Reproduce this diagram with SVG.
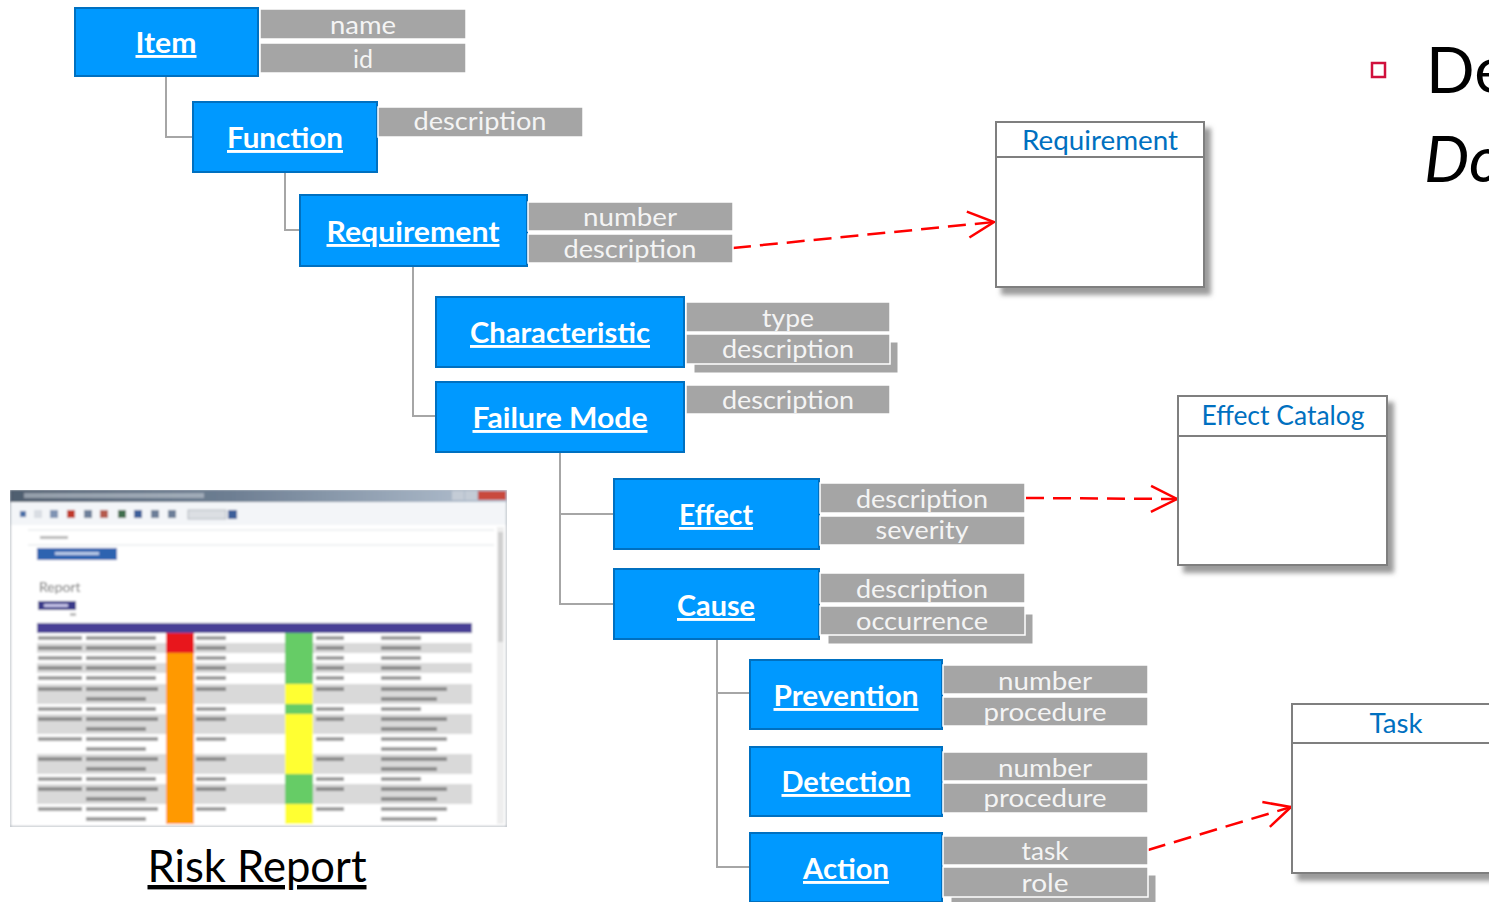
<svg xmlns="http://www.w3.org/2000/svg" xmlns:xlink="http://www.w3.org/1999/xlink" width="1489" height="902" viewBox="0 0 1489 902">
<style>
.box{fill:#0099FF;stroke:#0070C0;stroke-width:2}
.lbl{font-family:Lato,"Open Sans",sans-serif;font-weight:bold;font-size:29px;fill:#FFFFFF;text-anchor:middle;text-decoration:underline}
.attr{fill:#A5A5A5;stroke:#FFFFFF;stroke-width:1.5}
.attrsh{fill:#A5A5A5;stroke:#FFFFFF;stroke-width:1}
.at{font-family:Lato,"Open Sans",sans-serif;font-size:25px;fill:#F4F4F4;text-anchor:middle}
.umlbox{fill:#FFFFFF;stroke:#7F7F7F;stroke-width:2}
.umlline{stroke:#7F7F7F;stroke-width:2}
.umlt{font-family:Lato,"Open Sans",sans-serif;font-size:26px;fill:#0070C0;text-anchor:middle}
.tree{fill:none;stroke:#A6A6A6;stroke-width:2}
.dep{fill:none;stroke:#FF0000;stroke-width:2.5;stroke-dasharray:18 9}
.tb{fill:#5a5a5a;opacity:.6}
</style>
<defs>
<marker id="open" markerUnits="userSpaceOnUse" markerWidth="32" markerHeight="32" refX="28" refY="14" orient="auto" overflow="visible">
<path d="M2,1 L28,14 L2,27" fill="none" stroke="#FF0000" stroke-width="2.5"/>
</marker>
<filter id="shadow" x="-10%" y="-10%" width="130%" height="130%">
<feDropShadow dx="6" dy="7" stdDeviation="2.5" flood-color="#7a7a7a" flood-opacity="0.75"/>
</filter>
<filter id="blur" x="0" y="0" width="100%" height="100%">
<feGaussianBlur stdDeviation="0.9"/>
</filter>
<linearGradient id="titlegrad" x1="0" y1="0" x2="1" y2="0">
<stop offset="0" stop-color="#4f5d6e"/>
<stop offset="0.45" stop-color="#6e7f93"/>
<stop offset="1" stop-color="#b7c4d3"/>
</linearGradient>
<g id="rowtext">
<rect class="tb" x="38" y="3" width="44" height="4"/>
<rect class="tb" x="86" y="3" width="70" height="4"/>
<rect class="tb" x="196" y="3" width="30" height="4"/>
<rect class="tb" x="316" y="3" width="28" height="4"/>
<rect class="tb" x="381" y="3" width="40" height="4"/>
</g>
<g id="rowtext2">
<rect class="tb" x="38" y="3" width="44" height="4"/>
<rect class="tb" x="86" y="3" width="72" height="4"/>
<rect class="tb" x="196" y="3" width="30" height="4"/>
<rect class="tb" x="316" y="3" width="28" height="4"/>
<rect class="tb" x="381" y="3" width="66" height="4"/>
<rect class="tb" x="86" y="13" width="60" height="4"/>
<rect class="tb" x="381" y="13" width="56" height="4"/>
</g>
</defs>
<rect width="1489" height="902" fill="#FFFFFF"/>

<g id="connectors">
<path class="tree" d="M166,76 V137 H193"/>
<path class="tree" d="M285,172 V230 H300"/>
<path class="tree" d="M413,266 V416 H436"/>
<path class="tree" d="M560,452 V604 H614 M560,514 H614"/>
<path class="tree" d="M717,639 V867 H750 M717,693 H750"/>
<path class="dep" d="M733,248 L994,222" marker-end="url(#open)"/>
<path class="dep" d="M1026,498 L1177,499" marker-end="url(#open)"/>
<path class="dep" d="M1148,850 L1291,807" marker-end="url(#open)"/>
</g>

<g id="item">
<rect class="box" x="75" y="8" width="183" height="68"/>
<text class="lbl" x="166" y="53" textLength="61" lengthAdjust="spacingAndGlyphs">Item</text>
<rect class="attr" x="260" y="9" width="206" height="30"/>
<text class="at" x="363" y="34" textLength="66" lengthAdjust="spacingAndGlyphs">name</text>
<rect class="attr" x="260" y="43" width="206" height="30"/>
<text class="at" x="363" y="68">id</text>
</g>

<g id="function">
<rect class="box" x="193" y="102" width="184" height="70"/>
<text class="lbl" x="285" y="148" textLength="116" lengthAdjust="spacingAndGlyphs">Function</text>
<rect class="attr" x="378" y="107" width="205" height="30"/>
<text class="at" x="480" y="130" textLength="133" lengthAdjust="spacingAndGlyphs">description</text>
</g>

<g id="requirement">
<rect class="box" x="300" y="195" width="227" height="71"/>
<text class="lbl" x="413" y="242" textLength="173" lengthAdjust="spacingAndGlyphs">Requirement</text>
<rect class="attr" x="528" y="202" width="205" height="29"/>
<text class="at" x="630" y="226" textLength="94" lengthAdjust="spacingAndGlyphs">number</text>
<rect class="attr" x="528" y="234" width="205" height="29"/>
<text class="at" x="630" y="258" textLength="133" lengthAdjust="spacingAndGlyphs">description</text>
</g>

<g id="characteristic">
<rect class="box" x="436" y="297" width="248" height="70"/>
<text class="lbl" x="560" y="343" textLength="180" lengthAdjust="spacingAndGlyphs">Characteristic</text>
<rect class="attr" x="686" y="302" width="204" height="30"/>
<text class="at" x="788" y="327" textLength="52" lengthAdjust="spacingAndGlyphs">type</text>
<rect class="attrsh" x="694" y="342" width="204" height="31"/>
<rect class="attr" x="686" y="334" width="204" height="30"/>
<text class="at" x="788" y="358" textLength="132" lengthAdjust="spacingAndGlyphs">description</text>
</g>

<g id="failure-mode">
<rect class="box" x="436" y="382" width="248" height="70"/>
<text class="lbl" x="560" y="428" textLength="175" lengthAdjust="spacingAndGlyphs">Failure Mode</text>
<rect class="attr" x="686" y="385" width="204" height="29"/>
<text class="at" x="788" y="409" textLength="132" lengthAdjust="spacingAndGlyphs">description</text>
</g>

<g id="effect">
<rect class="box" x="614" y="479" width="205" height="70"/>
<text class="lbl" x="716" y="525" textLength="74" lengthAdjust="spacingAndGlyphs">Effect</text>
<rect class="attr" x="820" y="483" width="205" height="30"/>
<text class="at" x="922" y="508" textLength="132" lengthAdjust="spacingAndGlyphs">description</text>
<rect class="attr" x="820" y="516" width="205" height="29"/>
<text class="at" x="922" y="539" textLength="93" lengthAdjust="spacingAndGlyphs">severity</text>
</g>

<g id="cause">
<rect class="box" x="614" y="569" width="205" height="70"/>
<text class="lbl" x="716" y="616" textLength="78" lengthAdjust="spacingAndGlyphs">Cause</text>
<rect class="attr" x="820" y="573" width="205" height="30"/>
<text class="at" x="922" y="598" textLength="132" lengthAdjust="spacingAndGlyphs">description</text>
<rect class="attrsh" x="828" y="614" width="205" height="30"/>
<rect class="attr" x="820" y="606" width="205" height="29"/>
<text class="at" x="922" y="630" textLength="132" lengthAdjust="spacingAndGlyphs">occurrence</text>
</g>

<g id="prevention">
<rect class="box" x="750" y="660" width="192" height="69"/>
<text class="lbl" x="846" y="706" textLength="145" lengthAdjust="spacingAndGlyphs">Prevention</text>
<rect class="attr" x="943" y="665" width="205" height="29"/>
<text class="at" x="1045" y="690" textLength="94" lengthAdjust="spacingAndGlyphs">number</text>
<rect class="attr" x="943" y="697" width="205" height="29"/>
<text class="at" x="1045" y="721" textLength="123" lengthAdjust="spacingAndGlyphs">procedure</text>
</g>

<g id="detection">
<rect class="box" x="750" y="747" width="192" height="69"/>
<text class="lbl" x="846" y="792" textLength="129" lengthAdjust="spacingAndGlyphs">Detection</text>
<rect class="attr" x="943" y="752" width="205" height="29"/>
<text class="at" x="1045" y="777" textLength="94" lengthAdjust="spacingAndGlyphs">number</text>
<rect class="attr" x="943" y="783" width="205" height="30"/>
<text class="at" x="1045" y="807" textLength="123" lengthAdjust="spacingAndGlyphs">procedure</text>
</g>

<g id="action">
<rect class="box" x="750" y="833" width="192" height="69"/>
<text class="lbl" x="846" y="879" textLength="86" lengthAdjust="spacingAndGlyphs">Action</text>
<rect class="attr" x="943" y="836" width="205" height="29"/>
<text class="at" x="1045" y="860" textLength="47" lengthAdjust="spacingAndGlyphs">task</text>
<rect class="attrsh" x="951" y="875" width="205" height="30"/>
<rect class="attr" x="943" y="867" width="205" height="30"/>
<text class="at" x="1045" y="892" textLength="47" lengthAdjust="spacingAndGlyphs">role</text>
</g>

<g id="uml-requirement">
<rect class="umlbox" x="996" y="122" width="208" height="165" filter="url(#shadow)"/>
<line class="umlline" x1="996" y1="157" x2="1204" y2="157"/>
<text class="umlt" x="1100" y="150" textLength="156" lengthAdjust="spacingAndGlyphs">Requirement</text>
</g>

<g id="uml-effect-catalog">
<rect class="umlbox" x="1178" y="396" width="209" height="169" filter="url(#shadow)"/>
<line class="umlline" x1="1178" y1="436" x2="1387" y2="436"/>
<text class="umlt" x="1283" y="425" textLength="163" lengthAdjust="spacingAndGlyphs">Effect Catalog</text>
</g>

<g id="uml-task">
<rect class="umlbox" x="1292" y="704" width="208" height="169" filter="url(#shadow)"/>
<line class="umlline" x1="1292" y1="743" x2="1500" y2="743"/>
<text class="umlt" x="1396" y="733" textLength="53" lengthAdjust="spacingAndGlyphs">Task</text>
</g>

<g id="bullet-text">
<rect x="1372" y="63" width="13" height="14" fill="none" stroke="#D0103C" stroke-width="2.5"/>
<text x="1426" y="93" font-family="Lato,'Open Sans',sans-serif" font-size="64" fill="#000000">De</text>
<text x="1424" y="182" font-family="Lato,'Open Sans',sans-serif" font-size="64" font-style="italic" fill="#000000">Do</text>
</g>

<g id="risk-report">
<g id="screenshot" filter="url(#blur)">
<rect x="10" y="490" width="497" height="337" fill="#FFFFFF" stroke="#9aa3ad" stroke-width="1.5"/>
<rect x="10" y="490" width="497" height="12" fill="url(#titlegrad)"/>
<rect x="24" y="493" width="180" height="5" fill="#d8dde4" opacity="0.5"/>
<rect x="452" y="491" width="12" height="9" fill="#c4ccd6"/>
<rect x="465" y="491" width="12" height="9" fill="#c4ccd6"/>
<rect x="478" y="491" width="28" height="9" fill="#c94a3e"/>
<rect x="11" y="502" width="495" height="23" fill="#f3f5f8"/>
<rect x="20" y="511" width="6" height="6" fill="#4a6fa8"/>
<rect x="34" y="510" width="8" height="8" fill="#d9dde3"/>
<rect x="50" y="510" width="8" height="8" fill="#7f93b3"/>
<rect x="67" y="510" width="8" height="8" fill="#c0392b"/>
<rect x="84" y="510" width="8" height="8" fill="#6d7f9a"/>
<rect x="100" y="510" width="8" height="8" fill="#b55a4e"/>
<rect x="118" y="510" width="8" height="8" fill="#3f6e4e"/>
<rect x="134" y="510" width="8" height="8" fill="#3c5f9a"/>
<rect x="151" y="510" width="8" height="8" fill="#6c7e98"/>
<rect x="168" y="510" width="8" height="8" fill="#6c7e98"/>
<rect x="188" y="510" width="38" height="9" fill="#dcdfe3" stroke="#a9b0b8" stroke-width="0.8"/>
<rect x="228" y="510" width="9" height="9" fill="#3c5f9a"/>
<line x1="28" y1="530" x2="494" y2="530" stroke="#e0e3e7" stroke-width="1"/>
<rect x="40" y="536" width="28" height="3" fill="#8a8a8a" opacity="0.6"/>
<line x1="28" y1="545" x2="494" y2="545" stroke="#e0e3e7" stroke-width="1"/>
<rect x="37" y="548" width="80" height="12" fill="#2f63b0"/>
<rect x="55" y="552" width="44" height="3" fill="#b9cbe8"/>
<text x="39" y="592" font-family="Lato,'Open Sans',sans-serif" font-size="14" fill="#6a6a6a">Report</text>
<rect x="38" y="601" width="38" height="9" fill="#3b3a8a"/>
<rect x="44" y="604" width="24" height="3" fill="#c5c3e8"/>
<rect x="70" y="613" width="6" height="3" fill="#8a8a8a" opacity="0.6"/>
<rect x="37" y="623" width="435" height="10" fill="#4a3f96"/>
<g fill="#d9d9d9">
<rect x="37" y="643" width="435" height="10"/>
<rect x="37" y="663" width="435" height="10"/>
<rect x="37" y="684" width="435" height="20"/>
<rect x="37" y="714" width="435" height="20"/>
<rect x="37" y="754" width="435" height="20"/>
<rect x="37" y="784" width="435" height="20"/>
</g>
<rect x="166" y="633" width="28" height="20" fill="#e8141a"/>
<rect x="166" y="653" width="28" height="171" fill="#FF9900"/>
<rect x="285" y="633" width="28" height="51" fill="#66cc66"/>
<rect x="285" y="684" width="28" height="20" fill="#FFFF33"/>
<rect x="285" y="704" width="28" height="10" fill="#66cc66"/>
<rect x="285" y="714" width="28" height="60" fill="#FFFF33"/>
<rect x="285" y="774" width="28" height="30" fill="#66cc66"/>
<rect x="285" y="804" width="28" height="20" fill="#FFFF33"/>
<use xlink:href="#rowtext" y="633"/>
<use xlink:href="#rowtext" y="643"/>
<use xlink:href="#rowtext" y="653"/>
<use xlink:href="#rowtext" y="663"/>
<use xlink:href="#rowtext" y="673"/>
<use xlink:href="#rowtext2" y="684"/>
<use xlink:href="#rowtext" y="704"/>
<use xlink:href="#rowtext2" y="714"/>
<use xlink:href="#rowtext2" y="734"/>
<use xlink:href="#rowtext2" y="754"/>
<use xlink:href="#rowtext" y="774"/>
<use xlink:href="#rowtext2" y="784"/>
<use xlink:href="#rowtext2" y="804"/>
<rect x="497" y="527" width="7" height="297" fill="#eeeeee"/>
<rect x="498" y="532" width="5" height="110" fill="#cfcfcf"/>
</g>
<text x="257" y="882" font-family="Lato,'Open Sans',sans-serif" font-size="44" fill="#000000" text-anchor="middle" text-decoration="underline" textLength="219" lengthAdjust="spacingAndGlyphs">Risk Report</text>
</g>
</svg>
